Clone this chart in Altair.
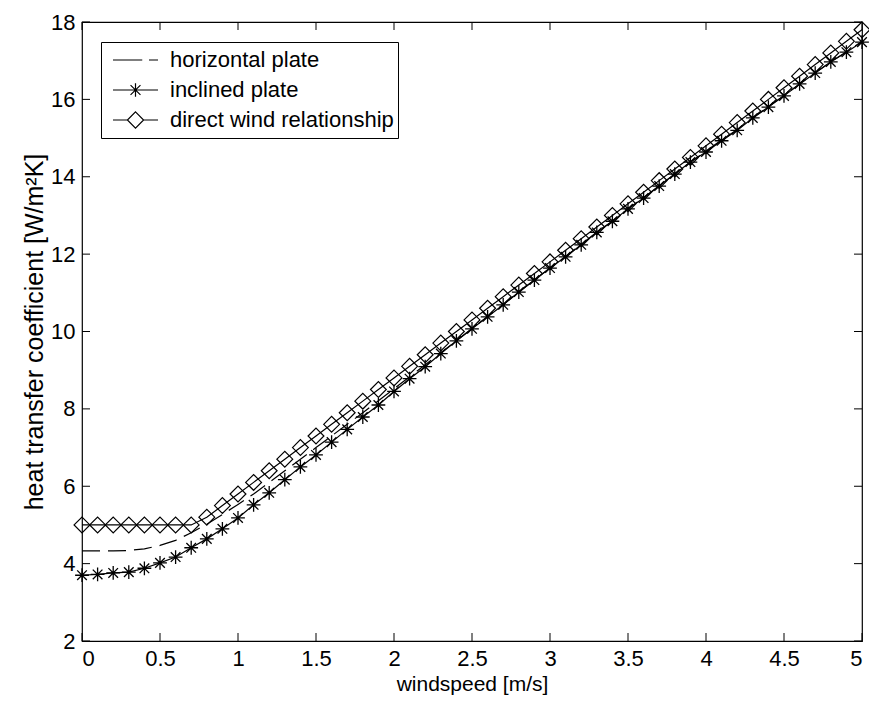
import altair as alt
import pandas as pd

# ---------------- data ----------------
wind = [0.0, 0.1, 0.2, 0.3, 0.4, 0.5, 0.6, 0.7, 0.8, 0.9,
        1.0, 1.1, 1.2, 1.3, 1.4, 1.5, 1.6, 1.7, 1.8, 1.9,
        2.0, 2.1, 2.2, 2.3, 2.4, 2.5, 2.6, 2.7, 2.8, 2.9,
        3.0, 3.1, 3.2, 3.3, 3.4, 3.5, 3.6, 3.7, 3.8, 3.9,
        4.0, 4.1, 4.2, 4.3, 4.4, 4.5, 4.6, 4.7, 4.8, 4.9, 5.0]

horizontal = [4.33, 4.33, 4.33, 4.34, 4.38, 4.47, 4.60, 4.80, 5.02, 5.27,
              5.53, 5.80, 6.10, 6.40, 6.70, 7.00, 7.30, 7.60, 7.90, 8.21,
              8.52, 8.83, 9.14, 9.45, 9.76, 10.08, 10.39, 10.70, 11.02, 11.33,
              11.64, 11.94, 12.25, 12.57, 12.85, 13.17, 13.46, 13.77, 14.07, 14.38,
              14.66, 14.95, 15.22, 15.53, 15.81, 16.10, 16.40, 16.69, 16.97, 17.23, 17.50]

inclined = [3.70, 3.72, 3.76, 3.78, 3.88, 4.02, 4.17, 4.41, 4.64, 4.90,
            5.18, 5.52, 5.83, 6.17, 6.50, 6.81, 7.14, 7.47, 7.79, 8.10,
            8.45, 8.78, 9.09, 9.43, 9.76, 10.07, 10.38, 10.69, 11.02, 11.33,
            11.64, 11.93, 12.24, 12.56, 12.85, 13.17, 13.45, 13.76, 14.07, 14.38,
            14.64, 14.93, 15.20, 15.52, 15.80, 16.09, 16.40, 16.68, 16.97, 17.22, 17.48]

direct = [5.0, 5.0, 5.0, 5.0, 5.0, 5.0, 5.0, 5.0, 5.2, 5.5,
          5.8, 6.1, 6.4, 6.7, 7.0, 7.3, 7.6, 7.9, 8.2, 8.5,
          8.8, 9.1, 9.4, 9.7, 10.0, 10.3, 10.6, 10.9, 11.2, 11.5,
          11.8, 12.1, 12.4, 12.7, 13.0, 13.3, 13.6, 13.9, 14.2, 14.5,
          14.8, 15.1, 15.4, 15.7, 16.0, 16.3, 16.6, 16.9, 17.2, 17.5, 17.8]

series_names = ["horizontal plate", "inclined plate", "direct wind relationship"]
x_ticks = [0, 0.5, 1, 1.5, 2, 2.5, 3, 3.5, 4, 4.5, 5]
y_ticks = [2, 4, 6, 8, 10, 12, 14, 16, 18]

rows = []
for name, vals in zip(series_names, [horizontal, inclined, direct]):
    for w, h in zip(wind, vals):
        rows.append({"series": name, "wind": w, "h": h})
df = pd.DataFrame(rows)
xt_df = pd.DataFrame({"wind": x_ticks})
yt_df = pd.DataFrame({"h": y_ticks})

# ---------------- styling ----------------
FONT = "Liberation Sans"
W, H = 780, 619
TICK = 8

xs = alt.Scale(domain=[0, 5], nice=False, zero=False)
ys = alt.Scale(domain=[2, 18], nice=False, zero=False)

x_enc = alt.X("wind:Q", scale=xs,
              axis=alt.Axis(values=x_ticks, format="~g", title="windspeed [m/s]",
                            labelPadding=7, titlePadding=4, labelFontSize=22, titleFontSize=21))
y_enc = alt.Y("h:Q", scale=ys,
              axis=alt.Axis(values=y_ticks, format="d",
                            title="heat transfer coefficient [W/m²K]",
                            labelPadding=7, titlePadding=3, labelFontSize=22, titleFontSize=25))

STAR = "M-1,0H1M0,-1V1M-0.7,-0.7L0.7,0.7M-0.7,0.7L0.7,-0.7"

LEG_H = "M-1,0H0.3M0.6,0H1"
LEG_I = "M-1,0H1M0,-0.3V0.3M-0.22,-0.22L0.22,0.22M-0.22,0.22L0.22,-0.22"
LEG_D = "M-1,0H-0.36M0.36,0H1M0,-0.36L0.36,0L0,0.36L-0.36,0Z"

base = alt.Chart(df)

line_h = base.transform_filter(alt.datum.series == "horizontal plate").mark_line(
    color="black", strokeWidth=1.2, strokeDash=[18, 8]).encode(x=x_enc, y=y_enc)

line_id = base.transform_filter(alt.datum.series != "horizontal plate").mark_line(
    color="black", strokeWidth=1.2).encode(x=x_enc, y=y_enc, detail="series:N")

stars = base.transform_filter(alt.datum.series == "inclined plate").mark_point(
    shape=STAR, size=190, color="black", filled=False, strokeWidth=1.3, opacity=1
).encode(x=x_enc, y=y_enc)

diamonds = base.transform_filter(alt.datum.series == "direct wind relationship").mark_point(
    shape="diamond", size=250, color="black", filled=False, strokeWidth=1.2, opacity=1
).encode(x=x_enc, y=y_enc)

legend_layer = base.transform_filter("datum.h < 0").mark_point(
    color="black", filled=False, strokeWidth=1.2, size=2025, opacity=1
).encode(
    x=x_enc, y=y_enc,
    shape=alt.Shape("series:N",
                    scale=alt.Scale(domain=series_names, range=[LEG_H, LEG_I, LEG_D]),
                    legend=alt.Legend(title=None, orient="none", legendX=19, legendY=20,
                                      direction="vertical", fillColor="white",
                                      strokeColor="black", padding=4, clipHeight=28,
                                      labelOffset=11, symbolOffset=7,
                                      labelFontSize=22, labelFont=FONT, labelColor="black",
                                      labelLimit=500, symbolStrokeColor="black",
                                      symbolStrokeWidth=1.2, symbolSize=2025,
                                      symbolFillColor="transparent", cornerRadius=0)),
)

tick_x_bottom = alt.Chart(xt_df).mark_rule(color="black", strokeWidth=1).encode(
    x=x_enc, y=alt.value(H), y2=alt.value(H - TICK))
tick_x_top = alt.Chart(xt_df).mark_rule(color="black", strokeWidth=1).encode(
    x=x_enc, y=alt.value(0), y2=alt.value(TICK))
tick_y_left = alt.Chart(yt_df).mark_rule(color="black", strokeWidth=1).encode(
    y=y_enc, x=alt.value(0), x2=alt.value(TICK))
tick_y_right = alt.Chart(yt_df).mark_rule(color="black", strokeWidth=1).encode(
    y=y_enc, x=alt.value(W), x2=alt.value(W - TICK))

chart = alt.layer(
    line_h, line_id, stars, diamonds, legend_layer,
    tick_x_bottom, tick_x_top, tick_y_left, tick_y_right
).properties(
    width=W, height=H,
    padding={"left": 82, "top": 22, "right": 7, "bottom": 63},
    autosize=alt.AutoSizeParams(type="none"),
    background="white",
).configure_view(
    stroke="black", strokeWidth=1.2
).configure_axis(
    labelFont=FONT, titleFont=FONT, labelColor="black", titleColor="black",
    titleFontWeight="normal", ticks=False, domain=False, grid=False,
)

chart.save("out.html", embed_options={"renderer": "svg", "actions": False})
